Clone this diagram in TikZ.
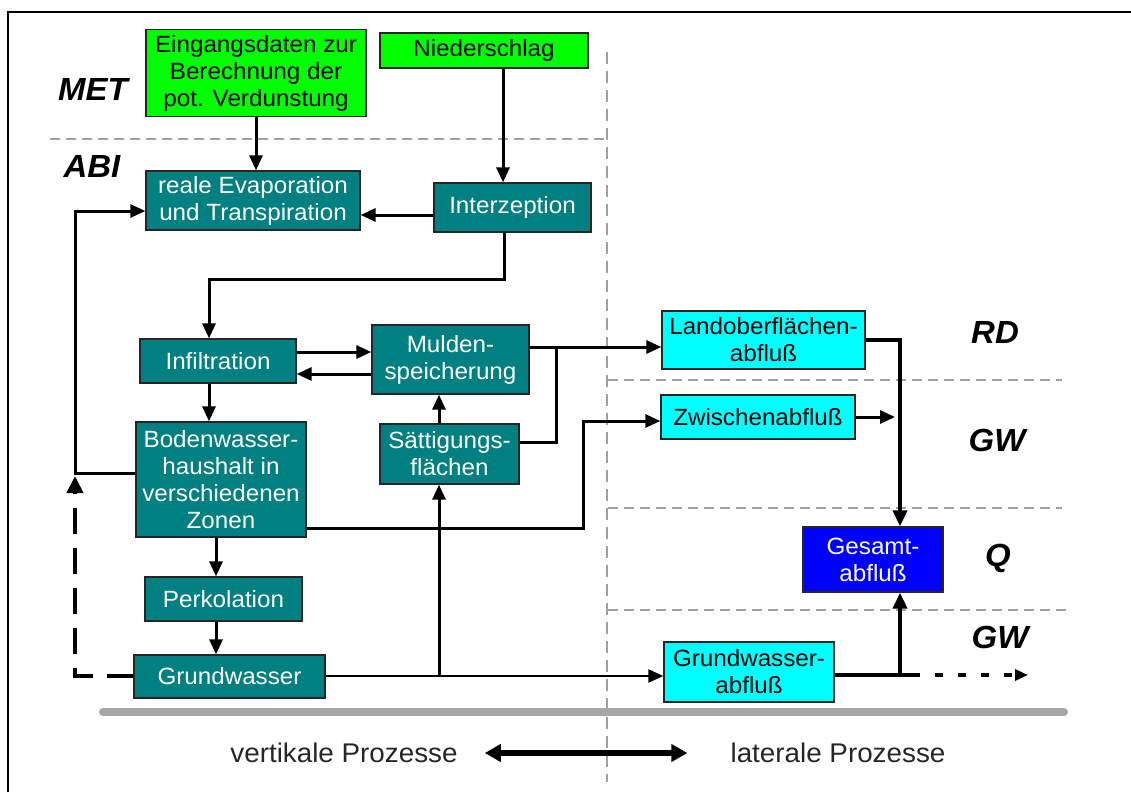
\documentclass[tikz,border=0pt]{standalone}
\usepackage{fontspec}
\setmainfont{Liberation Sans}[FakeStretch=1.03]
\usetikzlibrary{arrows.meta,calc}
\definecolor{tealbox}{HTML}{008080}
\definecolor{greenbox}{HTML}{00FF00}
\definecolor{cyanbox}{HTML}{00FFFF}
\definecolor{bluebox}{HTML}{0000FF}
\definecolor{dashgrey}{HTML}{A0A0A0}
\definecolor{bargrey}{HTML}{A6A6A6}
\begin{document}
\begin{tikzpicture}[x=1pt,y=-1pt,
  box/.style={draw=black!85, line width=1.3pt, inner sep=0pt, align=center,
    font=\fontsize{23.5}{27}\selectfont},
  greenb/.style={box, fill=greenbox, text=black},
  tealb/.style={box, fill=tealbox, text=white},
  cyanb/.style={box, fill=cyanbox, text=black},
  blueb/.style={box, fill=bluebox, text=white},
  lab/.style={font=\fontsize{32}{32}\selectfont\bfseries\itshape, inner sep=0pt},
  bot/.style={font=\fontsize{27}{27}\selectfont, text=black!85, inner sep=0pt},
  conn/.style={line width=3pt, line join=miter},
  arr/.style={conn, -{Triangle[length=15pt,width=13pt]}},
  arrthin/.style={line width=2.4pt, -{Triangle[length=15pt,width=13pt]}},
  arrthick/.style={line width=4pt, line join=miter, -{Triangle[length=16pt,width=14pt]}},
  dasharr/.style={line width=4pt, dash pattern=on 26pt off 14pt, line join=miter,
    -{Triangle[length=17pt,width=16pt]}},
  dotarr/.style={line width=4pt, dash pattern=on 8pt off 15pt,
    -{Triangle[length=13pt,width=11pt]}},
  dblarr/.style={line width=5.5pt, {Triangle[length=16pt,width=17pt]}-{Triangle[length=16pt,width=17pt]}},
  sep/.style={dashgrey, line width=2.5pt, dash pattern=on 10pt off 6pt},
  vsep/.style={dashgrey, line width=2pt, dash pattern=on 12pt off 7pt}]
\useasboundingbox (0,0) rectangle (1131,792);
\fill[white] (0,0) rectangle (1131,792);

% frame
\draw[line width=2pt] (8,792) -- (8,12) -- (1131,12);

% separators
\draw[sep] (50,139) -- (607,139);
\draw[vsep] (607,52) -- (607,782);
\draw[sep] (608,380) -- (1062,380);
\draw[sep] (608,508) -- (1062,508);
\draw[sep] (608,610) -- (1068,610);

% ground bar
\draw[bargrey, line width=8pt, line cap=round] (103,712) -- (1064,712);

% layer labels
\node[lab] (met) at (93,89) {MET};
\node[lab] (abi) at (92,166) {ABI};
\node[lab] (rd) at (995,332) {RD};
\node[lab] (gw1) at (997,440) {GW};
\node[lab] (q) at (998,558) {Q};
\node[lab] (gw2) at (1000,637) {GW};

% boxes
\node[greenb, minimum width=220, minimum height=87] (ein) at (256,73) {Eingangsdaten zur\\Berechnung der\\pot. Verdunstung};
\node[greenb, minimum width=208, minimum height=35] (nied) at (484,50.5) {Niederschlag};
\node[tealb, minimum width=214, minimum height=59] (evap) at (253,200.5) {reale Evaporation\\und Transpiration};
\node[tealb, minimum width=157, minimum height=49] (interz) at (512.5,207.5) {Interzeption};
\node[tealb, minimum width=156, minimum height=44] (infil) at (218,361) {Infiltration};
\node[tealb, minimum width=157, minimum height=69] (mulden) at (450.5,359.5) {Mulden-\\speicherung};
\node[tealb, minimum width=170, minimum height=115] (boden) at (221,479.5) {Bodenwasser-\\haushalt in\\verschiedenen\\Zonen};
\node[tealb, minimum width=139, minimum height=60] (saett) at (449.5,454) {Sättigungs-\\flächen};
\node[tealb, minimum width=157, minimum height=44] (perk) at (223.5,599) {Perkolation};
\node[tealb, minimum width=191, minimum height=43] (gw) at (229.5,676.5) {Grundwasser};
\node[cyanb, minimum width=203, minimum height=58] (land) at (763.5,340) {Landoberflächen-\\abfluß};
\node[cyanb, minimum width=194, minimum height=44] (zwi) at (758,417) {Zwischenabfluß};
\node[blueb, minimum width=140, minimum height=65] (ges) at (873,559.5) {Gesamt-\\abfluß};
\node[cyanb, minimum width=170, minimum height=60] (gwab) at (749,672) {Grundwasser-\\abfluß};

% helper coordinates
\coordinate (colN) at (503,0);
\coordinate (colI) at (504,0);
\coordinate (rowI) at (0,215);
\coordinate (c1) at (209,279);
\coordinate (colP) at (216,0);
\coordinate (r1) at (0,352);
\coordinate (r2) at (0,374);
\coordinate (colL) at (75,0);
\coordinate (rowB) at (0,473);
\coordinate (rowE) at (0,211);
\coordinate (rowG) at (0,676);
\coordinate (tipL) at (75,476);
\coordinate (rowM) at (0,347);
\coordinate (jx) at (556,442);
\coordinate (colS) at (439,0);
\coordinate (rowB2) at (0,528);
\coordinate (zc) at (583,421);
\coordinate (colG) at (900,0);
\coordinate (zt) at (895,0);
\coordinate (rowR) at (0,675);
\coordinate (ds) at (912,675);
\coordinate (de) at (1028,675);

% connectors
\draw[arr] (ein.south) -- (ein.south |- evap.north);
\draw[arr] (nied.south -| colN) -- (interz.north -| colN);
\draw[arr] (interz.west |- rowI) -- (evap.east |- rowI);
\draw[arr] (interz.south -| colI) |- (c1) -- (c1 |- infil.north);
\draw[arr] (infil.south -| c1) -- (boden.north -| c1);
\draw[arr] (boden.south -| colP) -- (perk.north -| colP);
\draw[arr] (perk.south -| colP) -- (gw.north -| colP);
\draw[arr] (infil.east |- r1) -- (mulden.west |- r1);
\draw[arr] (mulden.west |- r2) -- (infil.east |- r2);
\draw[arr] (boden.west |- rowB) -| (colL |- rowE) -- (evap.west |- rowE);
\draw[dasharr] (gw.west |- rowG) -| (tipL);
\draw[arr] (mulden.east |- rowM) -- (land.west |- rowM);
\draw[conn] (saett.east |- jx) -| (jx |- rowM);
\draw[arr] (saett.north -| colS) -- (mulden.south -| colS);
\draw[arr] (colS |- rowG) -- (saett.south -| colS);
\draw[arr] (boden.east |- rowB2) -| (zc) -- (zwi.west |- zc);
\draw[arr] (zwi.east) -- (zwi.east -| zt);
\draw[arrthick] (land.east) -| (ges.north -| colG);
\draw[arrthin] (gw.east |- rowG) -- (gwab.west |- rowG);
\draw[line width=4.5pt] (gwab.east |- rowR) -- (ds);
\draw[dotarr] (ds) -- (de);
\draw[arrthick] (colG |- rowR) -- (ges.south -| colG);

% bottom legend
\node[bot] (vp) at (344,753) {vertikale Prozesse};
\node[bot] (lp) at (838,753) {laterale Prozesse};
\draw[dblarr] ([xshift=27pt]vp.east) -- ([xshift=-43pt]lp.west);
\end{tikzpicture}
\end{document}
